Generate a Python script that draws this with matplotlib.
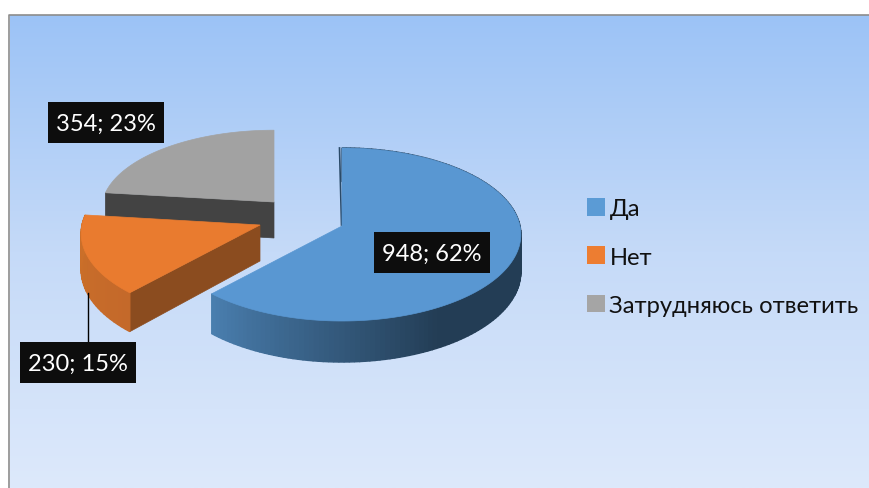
import numpy as np
import matplotlib
matplotlib.use("Agg")
import matplotlib.pyplot as plt
from matplotlib.colors import LinearSegmentedColormap
from matplotlib.patches import Patch, Polygon, Rectangle

# data
labels = ["Да", "Нет", "Затрудняюсь ответить"]
values = [948, 230, 354]
colors = ["#5b9bd5", "#ed7d31", "#a5a5a5"]

plt.rcParams['font.family'] = ['Lato', 'Open Sans', 'DejaVu Sans']

fig = plt.figure(figsize=(8.7, 4.89), dpi=100)
ax = fig.add_axes([0, 0, 1, 1])
ax.set_xlim(0, 870)
ax.set_ylim(489, 0)
ax.axis("off")

# background gradient + frame
bg = LinearSegmentedColormap.from_list("bg", ["#9cc3f6", "#c5daf8", "#dde9fb"])
ax.imshow(np.linspace(0, 1, 256).reshape(-1, 1), cmap=bg, aspect="auto",
          extent=(10, 870, 489, 16), zorder=0)
ax.set_xlim(0, 870)
ax.set_ylim(489, 0)
ax.plot([9.5, 9.5, 870], [489, 15.5, 15.5], color="#8c8c8c", lw=1.2, zorder=1)

# pie geometry, in pixels
rx = 178
ry = 85.7
k = 0.098
apexes = [(342, 227), (260, 226), (274, 203)]
depths = [37, 36, 36]


def proj(t, apex, d=0, sx=1.0, sy=1.0):
    # t in degrees clockwise from 12 o'clock
    t = np.radians(t)
    u = np.sin(t)
    v = np.cos(t)
    s = 1 / (1 + k * v)
    return apex[0] + rx * sx * u * s, apex[1] - ry * sy * v * s + d * s


def quad(t1, t2, apex, d, color, z):
    x1, y1 = proj(t1, apex)
    x2, y2 = proj(t2, apex)
    x3, y3 = proj(t2, apex, d)
    x4, y4 = proj(t1, apex, d)
    ax.add_patch(Polygon([(x1, y1), (x2, y2), (x3, y3), (x4, y4)], closed=True,
                         fc=color, ec=color, lw=1, zorder=z))


def mix(c1, c2, f):
    a = np.array(matplotlib.colors.to_rgb(c1))
    b = np.array(matplotlib.colors.to_rgb(c2))
    return a + (b - a) * f


pct = [v / sum(values) * 360 for v in values]
starts = np.cumsum([0] + pct[:-1])

# grey slice
z = 3
t1, t2 = starts[2], starts[2] + pct[2]
a = apexes[2]
d = depths[2]
x1, y1 = proj(t1, a, sx=0.965, sy=0.92)
xa, ya = a
ax.add_patch(Polygon([(x1, y1), (xa, ya), (xa, ya + d), (x1, y1 + d * 0.97)], closed=True,
                     fc="#434343", ec="#434343", lw=0.5, zorder=z))
tt = np.linspace(t1, t2, 60)
xs, ys = proj(tt, a, sx=0.965, sy=0.92)
ax.add_patch(Polygon([(xa, ya)] + list(zip(xs, ys)), closed=True, fc="#a2a2a2",
                     ec="#a2a2a2", lw=0.5, zorder=z + 0.1))

# orange slice
z = 4
t1, t2 = starts[1], starts[1] + pct[1]
a = apexes[1]
d = depths[1]
x1, y1 = proj(t1, a)
xa, ya = a
ax.add_patch(Polygon([(x1, y1), (xa, ya), (xa, ya + d), (x1, y1 + d * 1.08)], closed=True,
                     fc="#8b4c1f", ec="#8b4c1f", lw=0.5, zorder=z))
tt = np.linspace(t1, t2, 30)
for i in range(len(tt) - 1):
    quad(tt[i], tt[i + 1], a, d, mix("#c4692a", "#cc7029", i / 29), z)
xs, ys = proj(tt, a)
ax.add_patch(Polygon([(xa, ya)] + list(zip(xs, ys)), closed=True, fc="#e97b2f",
                     ec="#e97b2f", lw=0.5, zorder=z + 0.1))

# blue slice
z = 5
t1, t2 = starts[0], starts[0] + pct[0]
a = apexes[0]
d = depths[0]
tt = np.linspace(t1, t2, 150)
for i in range(len(tt) - 1):
    f = (tt[i] - 150) / (t2 - 150)
    quad(tt[i], tt[i + 1], a, d, mix("#233d55", "#4a7fb0", max(f, 0)), z)
xs, ys = proj(tt, a)
ax.add_patch(Polygon([(a[0], a[1])] + list(zip(xs, ys)), closed=True, fc="#5997d2",
                     ec="#5997d2", lw=0.5, zorder=z + 0.1))
x0, y0 = proj(0, a)
ax.plot([x0 - 2.5, a[0] - 0.5], [y0, a[1] - 1], color="#2a4a68", lw=1.2, zorder=z + 0.05)

# data labels
label_boxes = [(374, 233), (20, 343), (48, 103)]
for v, (bx, by) in zip(values, label_boxes):
    ax.add_patch(Rectangle((bx, by), 116, 41, fc="#0d0d0d", ec="none", zorder=7))
    ax.text(bx + 58, by + 21.5, f"{v}; {round(v / sum(values) * 100)}%", color="white",
            fontsize=17, ha="center", va="center", zorder=8)

# leader line
ax.plot([88, 88], [294, 343], color="black", lw=1, zorder=6)

# legend
handles = [Patch(fc=c, ec="none") for c in colors]
ax.legend(handles, labels, loc="center left", bbox_to_anchor=(582 / 870, 1 - 258 / 489),
          frameon=False, fontsize=17.15, handlelength=0.75, handleheight=0.75, handletextpad=0.2,
          labelspacing=1.15, borderpad=0, borderaxespad=0.2, labelcolor="#111111")

fig.savefig("out.png", dpi=100)
